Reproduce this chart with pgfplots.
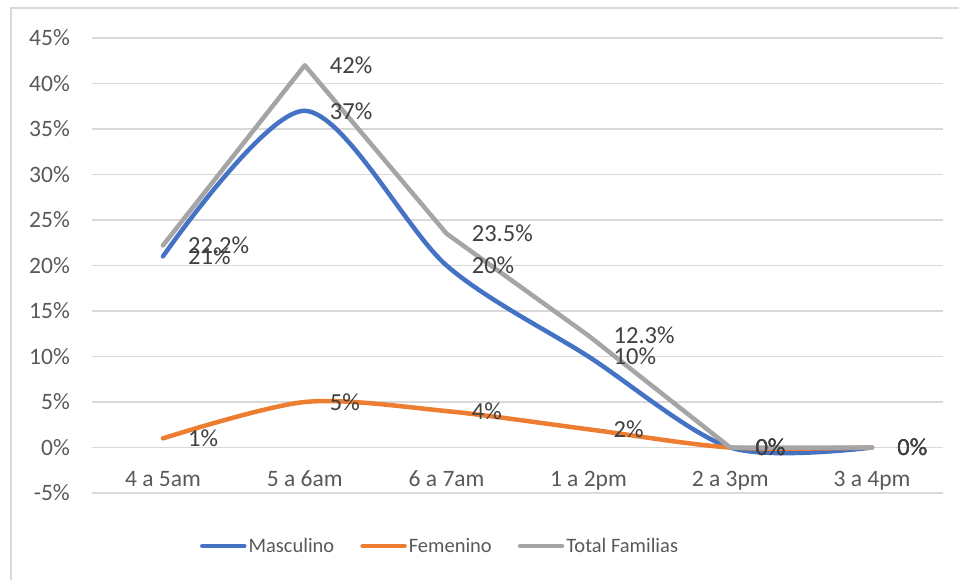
\documentclass[border=0pt]{standalone}
\usepackage{pgfplots}
\pgfplotsset{compat=1.18}
\usepackage{fontspec}
\setmainfont{Carlito}

\definecolor{masc}{HTML}{4472C4}
\definecolor{fem}{HTML}{ED7D31}
\definecolor{tot}{HTML}{A5A5A5}
\definecolor{gridc}{HTML}{D9D9D9}
\definecolor{axtxt}{HTML}{595959}
\definecolor{lbltxt}{HTML}{404040}

\newcommand{\tickfont}{\fontsize{23.5}{28}\selectfont}
\newcommand{\labelfont}{\fontsize{24.5}{29}\selectfont}
\newcommand{\legendfont}{\fontsize{20.5}{24}\selectfont}

\begin{document}
\begin{tikzpicture}
\useasboundingbox (0,0) rectangle (959pt,579pt);
% chart frame
\draw[gridc, line width=1.5pt] (11pt,-5pt) -- (11pt,571pt) -- (965pt,571pt);
\begin{axis}[
  at={(92pt,86pt)}, anchor=south west,
  scale only axis, width=851pt, height=455pt,
  xmin=-0.5, xmax=5.5, ymin=-5, ymax=45,
  axis line style={draw=none},
  major tick length=0pt,
  xtick={0,...,5},
  xticklabels={4 a 5am, 5 a 6am, 6 a 7am, 1 a 2pm, 2 a 3pm, 3 a 4pm},
  ytick={-5,0,...,45},
  yticklabel={\pgfmathprintnumber{\tick}\%},
  /pgf/number format/assume math mode=true,
  ymajorgrids, grid style={gridc, line width=1.5pt},
  tick label style={font=\tickfont, text=axtxt},
  xticklabel style={anchor=center, yshift=10pt, text height=1.6ex, text depth=0.3ex},
  yticklabel style={anchor=east, inner sep=0pt, xshift=-22pt},
  every axis plot/.append style={line width=4.5pt, line cap=round, line join=round},
  nodes near coords,
  point meta=explicit symbolic,
  nodes near coords style={anchor=west, inner sep=0pt, xshift=23pt,
    font=\labelfont, text=lbltxt},
  legend columns=3,
  legend cell align=left,
  legend style={at={(0.409,-0.1165)}, anchor=center, draw=none, fill=none,
    font=\legendfont, text=axtxt,
    /tikz/every even column/.append style={column sep=24pt}},
  legend image code/.code={%
    \draw[#1, line width=4.5pt, line cap=round] (0pt,0pt) -- (42pt,0pt);},
]
\addplot[masc, smooth, tension=0.5] coordinates {
  (0,21)[21\%] (1,37)[37\%] (2,20)[20\%] (3,10)[10\%] (4,0)[0\%] (5,0)[0\%]
};
\addlegendentry{Masculino}
\addplot[fem, smooth, tension=0.5] coordinates {
  (0,1)[1\%] (1,5)[5\%] (2,4)[4\%] (3,2)[2\%] (4,0)[0\%] (5,0)[0\%]
};
\addlegendentry{Femenino}
\addplot[tot] coordinates {
  (0,22.2)[22.2\%] (1,42)[42\%] (2,23.5)[23.5\%] (3,12.3)[12.3\%] (4,0)[0\%] (5,0)[0\%]
};
\addlegendentry{Total Familias}
\end{axis}
\end{tikzpicture}
\end{document}
